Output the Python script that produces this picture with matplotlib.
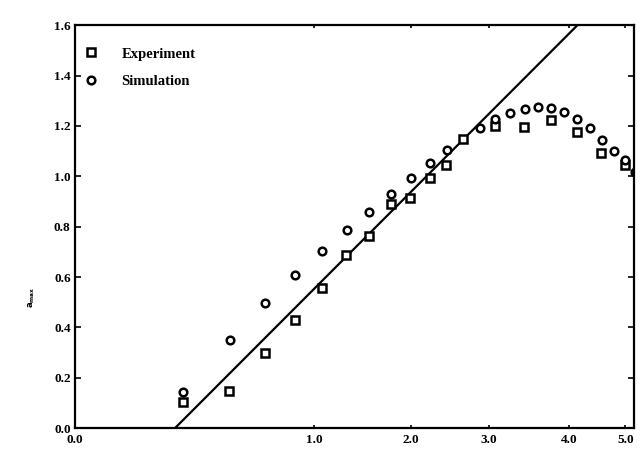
import matplotlib
matplotlib.use("Agg")
import matplotlib.pyplot as plt
import numpy as np

# Axis ticks (the scanned x axis is non-uniform between labels).
x_ticks = [0.0, 1.0, 2.0, 3.0, 4.0, 5.0, 6.0]
x_tick_stretch = [0, 239, 336, 414, 494, 550, 606]  # relative spacing of labels
x_tick_labels = ["0.0", "1.0", "2.0", "3.0", "4.0", "5.0"]
y_ticks = [0.0, 0.2, 0.4, 0.6, 0.8, 1.0, 1.2, 1.4, 1.6]

# Experiment (squares)
exp_x = [0.451, 0.646, 0.796, 0.921, 1.079, 1.330, 1.567, 1.794, 1.990,
         2.237, 2.453, 2.663, 3.075, 3.429, 3.769, 4.138, 4.571, 4.996]
exp_y = [0.106, 0.146, 0.298, 0.430, 0.556, 0.688, 0.764, 0.890, 0.913,
         0.993, 1.044, 1.149, 1.201, 1.197, 1.225, 1.176, 1.094, 1.043]

# Simulation (circles)
sim_x = [0.452, 0.649, 0.797, 0.921, 1.079, 1.340, 1.567, 1.794, 1.995,
         2.240, 2.458, 2.885, 3.075, 3.263, 3.450, 3.616, 3.775, 3.938,
         4.138, 4.366, 4.584, 4.791, 5.000, 5.180]
sim_y = [0.142, 0.351, 0.496, 0.609, 0.704, 0.788, 0.860, 0.929, 0.992,
         1.052, 1.104, 1.190, 1.229, 1.250, 1.267, 1.276, 1.270, 1.256,
         1.227, 1.190, 1.144, 1.100, 1.063, 1.017]

# Straight reference line
line_x = [0.418, 4.148]
line_y = [0.0, 1.6]


def forward(x):
    return np.interp(x, x_ticks, x_tick_stretch)


def inverse(p):
    return np.interp(p, x_tick_stretch, x_ticks)


serif = "Liberation Serif"

fig = plt.figure(figsize=(6.4, 4.65), dpi=100)
ax = fig.add_axes([0.117, 0.079, 0.874, 0.867])
ax.set_xscale("function", functions=(forward, inverse))

ax.plot(line_x, line_y, color="black", lw=1.6, solid_capstyle="butt")
ax.plot(exp_x, exp_y, linestyle="none", marker="s", ms=6, mfc="white",
        mec="black", mew=1.8, label="Experiment")
ax.plot(sim_x, sim_y, linestyle="none", marker="o", ms=5.5, mfc="white",
        mec="black", mew=1.8, label="Simulation")

ax.set_xlim(0, 5.16)
ax.set_ylim(0, 1.6)
ax.set_xticks(x_ticks[:-1])
ax.set_xticklabels(x_tick_labels)
ax.set_yticks(y_ticks)
ax.set_yticklabels([f"{v:.1f}" for v in y_ticks])
ax.tick_params(axis="both", direction="in", length=4, width=1.2,
               labelsize=9.5, pad=3)
ax.tick_params(axis="y", right=True)
ax.tick_params(axis="x", top=True, length=2, pad=4)
for lab in ax.get_xticklabels() + ax.get_yticklabels():
    lab.set_fontfamily(serif)
    lab.set_fontweight("bold")
for sp in ax.spines.values():
    sp.set_linewidth(1.6)

ax.set_ylabel(r"$\mathbf{a_{max}}$", fontsize=6)
ax.yaxis.set_label_coords(-0.068, 0.326)

leg = ax.legend(loc="upper left", bbox_to_anchor=(0.0, 0.972),
                frameon=False, handletextpad=1.7, borderaxespad=0.2,
                labelspacing=0.95, handlelength=0.75, borderpad=0.55,
                prop={"family": serif, "weight": "bold", "size": 10.5})

fig.savefig("out.png", dpi=100)
